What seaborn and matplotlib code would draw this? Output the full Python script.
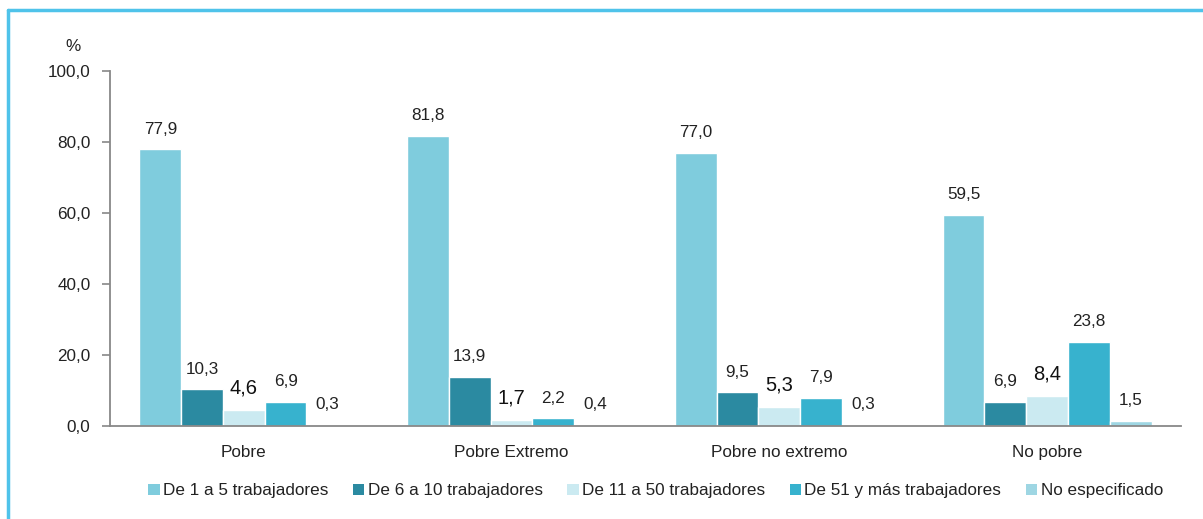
import numpy as np
import pandas as pd
import seaborn as sns
import matplotlib.pyplot as plt
from matplotlib.lines import Line2D
from matplotlib.patches import Patch

# data
categorias = ['Pobre', 'Pobre Extremo', 'Pobre no extremo', 'No pobre']
series = ['De 1 a 5 trabajadores', 'De 6 a 10 trabajadores', 'De 11 a 50 trabajadores',
          'De 51 y más trabajadores', 'No especificado']
de1a5 = [77.9, 81.8, 77.0, 59.5]
de6a10 = [10.3, 13.9, 9.5, 6.9]
de11a50 = [4.6, 1.7, 5.3, 8.4]
de51mas = [6.9, 2.2, 7.9, 23.8]
noEspecificado = [0.3, 0.4, 0.3, 1.5]
colores = ['#7FCCDD', '#2B8AA1', '#CBEAF1', '#37B2CE', '#9ED6E3']

valores = [de1a5, de6a10, de11a50, de51mas, noEspecificado]
rows = []
for s, vals in zip(series, valores):
    for c, v in zip(categorias, vals):
        rows.append({'categoria': c, 'serie': s, 'valor': v})
df = pd.DataFrame(rows)

sns.set_style('white')
plt.rcParams['font.family'] = ['Liberation Sans Narrow', 'Liberation Sans', 'DejaVu Sans']
fs = 12.3

fig = plt.figure(figsize=(12.03, 5.19), dpi=100)
ax = fig.add_axes([0.0914, 0.1792, 0.8903, 0.684])

sns.barplot(data=df, x='categoria', y='valor', hue='serie', order=categorias, hue_order=series,
            palette=colores, width=0.78, saturation=1, ax=ax, legend=False, errorbar=None)

# value labels, comma as decimal separator
for i, cont in enumerate(ax.containers):
    for bar, v in zip(cont, valores[i]):
        txt = f'{v:.1f}'.replace('.', ',')
        x = bar.get_x() + bar.get_width() / 2
        if i == 2:
            ax.annotate(txt, (x, v), xytext=(0, 9), textcoords='offset points', ha='center',
                        va='bottom', fontsize=14.5, color='#111111',
                        family=['Liberation Sans', 'DejaVu Sans'])
        else:
            ax.annotate(txt, (x, v), xytext=(0, 9), textcoords='offset points', ha='center',
                        va='bottom', fontsize=fs, color='#222222')

ax.set_ylim(0, 100)
ax.set_xlim(-0.5, 3.5)
ax.set_yticks([0, 20, 40, 60, 80, 100])
ax.set_yticklabels([f'{t:.1f}'.replace('.', ',') for t in [0, 20, 40, 60, 80, 100]])
ax.set_xticks(range(4))
ax.set_xticks([-0.5, 0.5, 1.5, 2.5, 3.5], minor=True)
ax.tick_params(axis='x', which='major', length=0, pad=14, labelsize=fs, labelcolor='#222222')
ax.tick_params(axis='x', which='minor', length=6, direction='out', color='#888888', width=1.2)
ax.tick_params(axis='y', length=6, direction='out', color='#888888', width=1.2, labelsize=fs,
               labelcolor='#222222', pad=8, left=True)
ax.set_xlabel('')
ax.set_ylabel('')
for s in ['top', 'right']:
    ax.spines[s].set_visible(False)
for s in ['left', 'bottom']:
    ax.spines[s].set_color('#888888')
    ax.spines[s].set_linewidth(1.3)

fig.text(0.061, 0.91, '%', fontsize=fs, color='#222222', ha='center', va='center')

handles = [Patch(facecolor=c, edgecolor='none') for c in colores]
fig.legend(handles, series, loc='center', bbox_to_anchor=(0.545, 0.054), ncol=5, frameon=False,
           fontsize=fs, handlelength=0.65, handleheight=0.65, handletextpad=0.2, columnspacing=1.45,
           labelcolor='#222222')

# light blue frame (top and left visible)
fig.add_artist(Line2D([0.0066, 1.0], [0.9807, 0.9807], color='#4FC3EA', lw=2.5, transform=fig.transFigure))
fig.add_artist(Line2D([0.0066, 0.0066], [0.0, 0.9807], color='#4FC3EA', lw=2.5, transform=fig.transFigure))

fig.savefig('out.png', dpi=100)
